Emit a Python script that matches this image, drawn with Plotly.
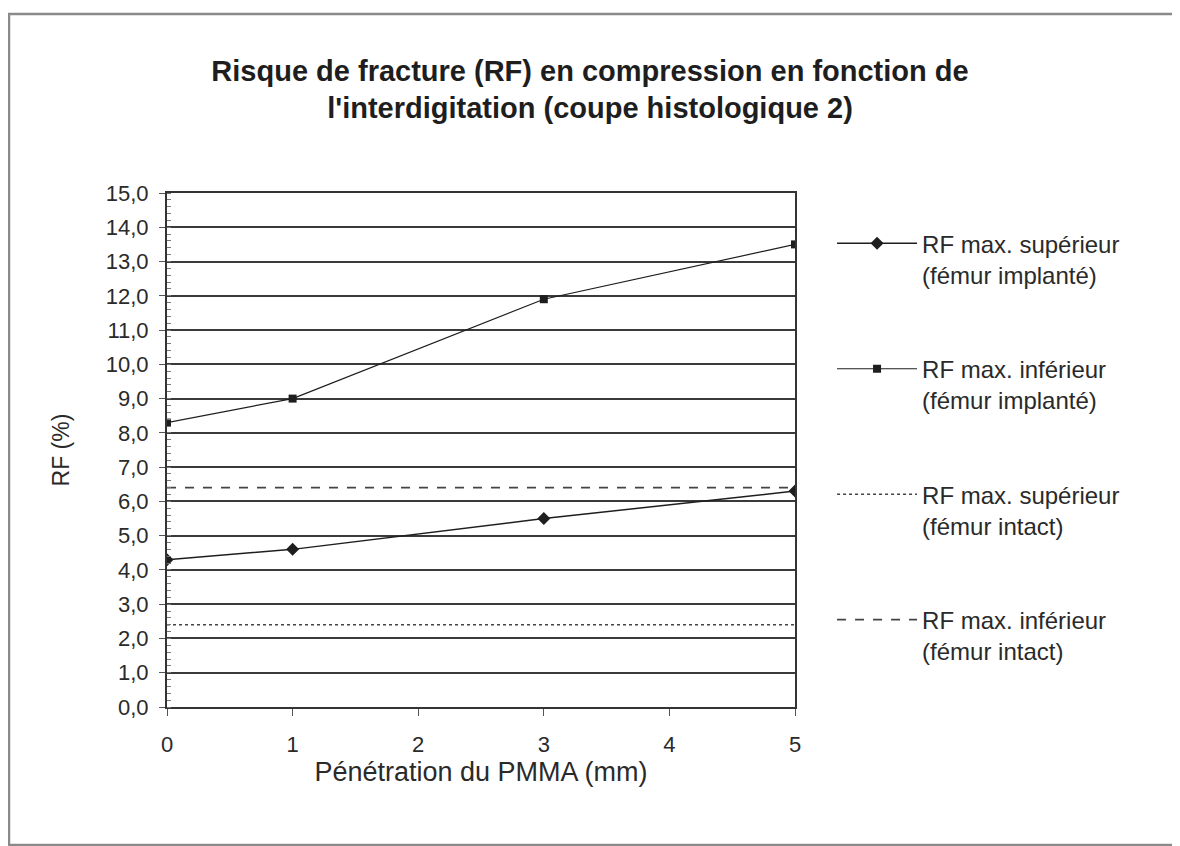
import plotly.graph_objects as go

penetration = [0, 1, 3, 5]
rf_sup_implante = [4.3, 4.6, 5.5, 6.3]
rf_inf_implante = [8.3, 9.0, 11.9, 13.5]
intact_x = [0, 5]
rf_sup_intact = [2.4, 2.4]
rf_inf_intact = [6.4, 6.4]

names = [
    "RF max. supérieur<br>(fémur implanté)",
    "RF max. inférieur<br>(fémur implanté)",
    "RF max. supérieur<br>(fémur intact)",
    "RF max. inférieur<br>(fémur intact)",
]
title_text = "Risque de fracture (RF) en compression en fonction de<br>l'interdigitation (coupe histologique 2)"
x_title = "Pénétration du PMMA (mm)"
y_title = "RF (%)"

INK = "#1e1e1e"
TXT = "#2a2a2a"
FONT = "Liberation Sans, Arial, sans-serif"

# plot area in figure pixels (page offset of 8px body margin removed)
L, T, PW, PH = 159, 185, 628, 514
W, H = 1180, 846

fig = go.Figure()
fig.add_trace(go.Scatter(x=penetration, y=rf_sup_implante, mode="lines+markers", name=names[0],
                         legendgroup="a", line=dict(color=INK, width=1.5),
                         marker=dict(symbol="diamond", size=10, color=INK)))
fig.add_trace(go.Scatter(x=penetration, y=rf_inf_implante, mode="lines+markers", name=names[1],
                         legendgroup="b", line=dict(color=INK, width=1.2),
                         marker=dict(symbol="square", size=8, color=INK)))
fig.add_trace(go.Scatter(x=intact_x, y=rf_sup_intact, mode="lines", name=names[2],
                         legendgroup="c", line=dict(color="#444", width=1.5, dash="dot")))
fig.add_trace(go.Scatter(x=intact_x, y=rf_inf_intact, mode="lines", name=names[3],
                         legendgroup="d", line=dict(color="#444", width=1.8, dash="dash")))

fig.update_layout(
    width=W, height=H,
    paper_bgcolor="white", plot_bgcolor="white",
    separators=", ",
    font=dict(family=FONT, color=INK, size=22),
    margin=dict(l=L, r=W - L - PW, t=T, b=H - T - PH),
    title=dict(text="<b>" + title_text + "</b>", x=(590 - 8) / W, xref="container", xanchor="center",
               y=0.914, yref="container", yanchor="middle",
               font=dict(family=FONT, size=29, color=INK)),
    legend=dict(x=1.059, xanchor="left", y=0.945, yanchor="top", tracegroupgap=60,
                font=dict(family=FONT, size=24, color=TXT), valign="top",
                bgcolor="rgba(0,0,0,0)", itemwidth=80),
    showlegend=True,
)

fig.update_xaxes(range=[0, 5], tickmode="array", tickvals=[0, 1, 2, 3, 4, 5],
                 ticks="outside", ticklen=7, tickcolor="#555", tickwidth=1,
                 ticklabelstandoff=10,
                 showgrid=False, zeroline=False, showline=True, linecolor="#333", linewidth=2,
                 mirror=True, tickfont=dict(size=22, color=TXT),
                 title=dict(text=x_title, font=dict(size=27, color=TXT), standoff=4))
fig.update_yaxes(range=[0, 15], dtick=1, tickformat=".1f",
                 ticks="outside", ticklen=6, tickcolor="#555", tickwidth=1,
                 ticklabelstandoff=6,
                 minor=dict(dtick=0.2, ticks="inside", ticklen=4, tickcolor="#777", showgrid=False),
                 showgrid=True, gridcolor="#3a3a3a", gridwidth=2, zeroline=False,
                 showline=True, linecolor="#333", linewidth=2, mirror=True,
                 tickfont=dict(size=22, color=TXT),
                 title=dict(text=y_title, font=dict(size=23, color=TXT), standoff=30))

# outer frame around the chart
fig.add_shape(type="rect", xref="paper", yref="paper",
              x0=(1 - L) / PW, x1=(1167 - L) / PW,
              y0=(T + PH - 837) / PH, y1=(T + PH - 6) / PH,
              line=dict(color="#8a8a8a", width=2.5), layer="below")

fig.write_html("out.html")
